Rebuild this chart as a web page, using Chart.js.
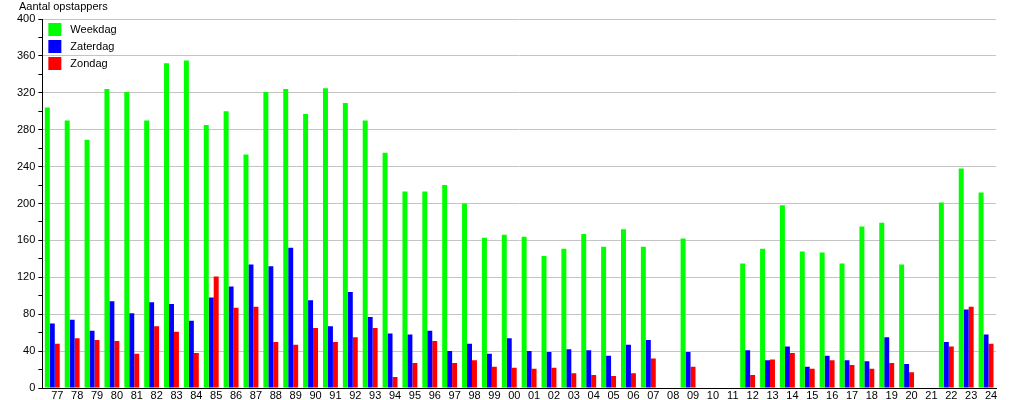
<!DOCTYPE html>
<html>
<head>
<meta charset="utf-8">
<script src="https://cdn.jsdelivr.net/npm/chart.js@4/dist/chart.umd.min.js"></script>
<style>
  html, body { margin: 0; padding: 0; background: #fff; }
  #wrap { width: 1015px; height: 400px; }
</style>
</head>
<body>
<div id="wrap"><canvas id="myChart" width="1015" height="400"></canvas></div>
<script>
const labels = [
    '77', '78', '79', '80', '81', '82', '83', '84', '85', '86', '87', '88',
    '89', '90', '91', '92', '93', '94', '95', '96', '97', '98', '99', '00',
    '01', '02', '03', '04', '05', '06', '07', '08', '09', '10', '11', '12',
    '13', '14', '15', '16', '17', '18', '19', '20', '21', '22', '23', '24'
];

const weekdag = [
    304, 290, 269, 324, 321, 290, 352, 355, 285, 300, 253, 321,
    324, 297, 325, 309, 290, 255, 213, 213, 220, 200, 163, 166,
    164, 143, 151, 167, 153, 172, 153, 0, 162, 0, 0, 135,
    151, 198, 148, 147, 135, 175, 179, 134, 0, 201, 238, 212
];

const zaterdag = [
    70, 74, 62, 94, 81, 93, 91, 73, 98, 110, 134, 132,
    152, 95, 67, 104, 77, 59, 58, 62, 40, 48, 37, 54,
    40, 39, 42, 41, 35, 47, 52, 0, 39, 0, 0, 41,
    30, 45, 23, 35, 30, 29, 55, 26, 0, 50, 85, 58
];

const zondag = [
    48, 54, 52, 51, 37, 67, 61, 38, 121, 87, 88, 50,
    47, 65, 50, 55, 65, 12, 27, 51, 27, 30, 23, 22,
    21, 22, 16, 14, 13, 16, 32, 0, 23, 0, 0, 14,
    31, 38, 21, 30, 25, 21, 27, 17, 0, 45, 88, 48
];

const yTitle = 'Aantal opstappers';
const font = '"Liberation Sans", Arial, sans-serif';

// legenda en as-titel zelf tekenen, linksboven in het plotvlak
const extras = {
    id: 'extras',
    afterDraw(chart) {
        const c = chart.ctx;
        const area = chart.chartArea;
        c.save();
        c.font = '11px ' + font;
        c.fillStyle = '#000';
        c.textBaseline = 'middle';
        c.textAlign = 'left';
        c.fillText(yTitle, 19, 7);
        chart.data.datasets.forEach((ds, i) => {
            const y = area.top + 4 + i * 17;
            c.fillStyle = ds.backgroundColor;
            c.fillRect(area.left + 6, y, 13, 13);
            c.fillStyle = '#000';
            c.fillText(ds.label, area.left + 28, y + 7);
        });
        c.restore();
    }
};

const data = {
    labels: labels,
    datasets: [{
        label: 'Weekdag',
        backgroundColor: '#00ff00',
        data: weekdag
    }, {
        label: 'Zaterdag',
        backgroundColor: '#0000ff',
        data: zaterdag
    }, {
        label: 'Zondag',
        backgroundColor: '#ff0000',
        data: zondag
    }]
};

const config = {
    type: 'bar',
    data: data,
    options: {
        responsive: false,
        animation: false,
        layout: { padding: { left: 14, right: 19, top: 19, bottom: 0 } },
        datasets: {
            bar: { categoryPercentage: 0.75, barPercentage: 1.0, borderWidth: 0 }
        },
        plugins: {
            legend: { display: false },
            tooltip: { enabled: false }
        },
        scales: {
            x: {
                afterFit: scale => { scale.height = 12; },
                grid: { display: false, drawTicks: false },
                border: { color: '#000', width: 1 },
                ticks: { color: '#000', font: { family: font, size: 11, lineHeight: 1 }, padding: 2, labelOffset: 5, autoSkip: false, maxRotation: 0 }
            },
            y: {
                min: 0,
                max: 400,
                grid: {
                    color: ctx => (ctx.tick && ctx.tick.value % 40 === 0) ? '#c4c4c4' : 'rgba(0,0,0,0)',
                    tickColor: '#000',
                    tickLength: 4
                },
                border: { color: '#000', width: 1 },
                ticks: {
                    stepSize: 20,
                    color: '#000',
                    font: { family: font, size: 11 },
                    padding: 3,
                    callback: v => (v % 40 === 0 ? v : '')
                }
            }
        }
    },
    plugins: [extras]
};

new Chart(document.getElementById('myChart'), config);
</script>
</body>
</html>
